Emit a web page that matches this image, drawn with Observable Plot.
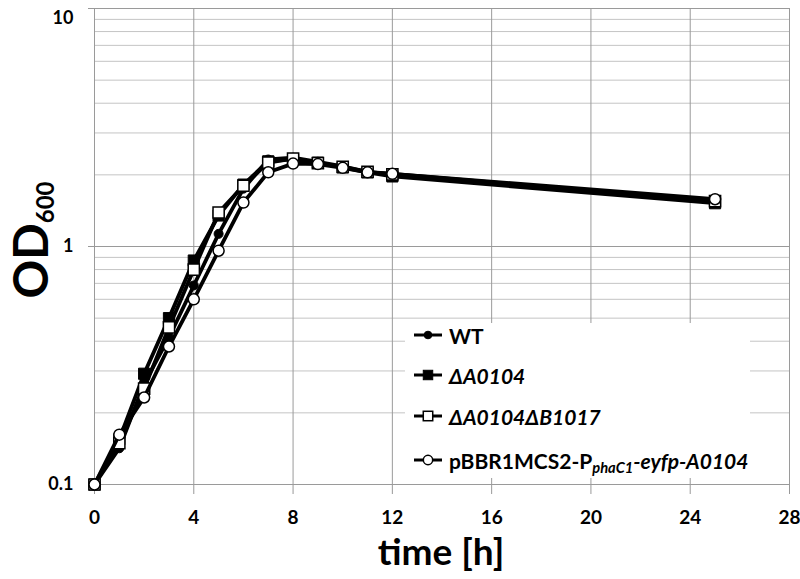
<!DOCTYPE html>
<html><head><meta charset="utf-8">
<script src="https://cdn.jsdelivr.net/npm/d3@7"></script>
<script src="https://cdn.jsdelivr.net/npm/@observablehq/plot@0.6"></script>
<style>
body{margin:0;background:#fff;}
#wrap{position:relative;width:800px;height:579px;font-family:Lato,"Open Sans",sans-serif;font-weight:bold;color:#000;}
#wrap svg text{font-weight:bold;}
[aria-label="x-axis tick"],[aria-label="y-axis tick"]{stroke:#999;}
[aria-label="y-axis tick label"]{font-size:18px;}
[aria-label="x-axis tick label"]{font-size:19px;}
#legend{position:absolute;left:405px;top:323px;width:345px;height:155px;background:#fff;}
.row{position:absolute;left:8px;height:30px;display:flex;align-items:center;font-size:21px;white-space:nowrap;}
.row svg{margin-right:6px;}
.it{font-style:italic;}
sub{font-size:0.7em;vertical-align:-0.3em;line-height:0;}
#ylab{position:absolute;left:30px;top:240px;transform:translate(-50%,-50%) rotate(-90deg);font-size:48px;white-space:nowrap;line-height:1;}
#ylab sub{font-size:24px;vertical-align:-0.25em;}
#xlab{position:absolute;left:441px;top:533px;transform:translateX(-50%);font-size:37px;white-space:nowrap;line-height:0.95;}
</style></head><body><div id="wrap"></div><script>
// ---- data ----
const times = [0, 1, 2, 3, 4, 5, 6, 7, 8, 9, 10, 11, 12, 25];
const seriesNames = ["WT", "ΔA0104", "ΔA0104ΔB1017", "pBBR1MCS2-PphaC1-eyfp-A0104"];
const wtOD      = [0.1, 0.142, 0.265, 0.415, 0.686, 1.13, 1.75, 2.32, 2.36, 2.27, 2.17, 2.06, 2.02, 1.55];
const dA0104OD  = [0.1, 0.155, 0.292, 0.50, 0.873, 1.35, 1.82, 2.28, 2.33, 2.25, 2.15, 2.05, 1.97, 1.52];
const dA0104dB1017OD = [0.1, 0.149, 0.253, 0.457, 0.80, 1.39, 1.80, 2.25, 2.34, 2.24, 2.16, 2.06, 2.01, 1.55];
const pBBROD    = [0.1, 0.162, 0.232, 0.38, 0.60, 0.96, 1.53, 2.05, 2.23, 2.22, 2.14, 2.05, 2.02, 1.58];
const xTicks = [0, 4, 8, 12, 16, 20, 24, 28];
const yTicks = [0.1, 1, 10];
const yTickLabels = ["0.1", "1", "10"];
const yMinorGrid = [0.2, 0.3, 0.4, 0.5, 0.6, 0.7, 0.8, 0.9, 2, 3, 4, 5, 6, 7, 8, 9];

const seriesValues = [wtOD, dA0104OD, dA0104dB1017OD, pBBROD];
const styles = [
  {symbol: "circle", r: 4.5, fill: "#000", stroke: "#000", strokeWidth: 1},
  {symbol: "square", r: 6.3, fill: "#000", stroke: "#000", strokeWidth: 1},
  {symbol: "square", r: 6.3, fill: "#fff", stroke: "#000", strokeWidth: 1.5},
  {symbol: "circle", r: 5.5, fill: "#fff", stroke: "#000", strokeWidth: 1.5}
];

const marks = [
  Plot.ruleY(yMinorGrid, {stroke: "#c4c4c4", strokeWidth: 1}),
  Plot.ruleY(yTicks, {stroke: "#9a9a9a", strokeWidth: 1}),
  Plot.ruleX(xTicks, {stroke: "#9a9a9a", strokeWidth: 1})
];
seriesNames.forEach((name, k) => {
  const rows = times.map((t, i) => ({t, od: seriesValues[k][i], name}));
  marks.push(Plot.line(rows, {x: "t", y: "od", stroke: "#000", strokeWidth: 3.8}));
  marks.push(Plot.dot(rows, {x: "t", y: "od", ...styles[k]}));
});

const chart = Plot.plot({
  width: 800, height: 579,
  marginLeft: 94, marginRight: 11, marginTop: 8, marginBottom: 95,
  style: {fontFamily: "Lato, 'Open Sans', sans-serif", fontSize: "20px", color: "#000", background: "#fff", overflow: "visible"},
  x: {domain: [0, 28], ticks: xTicks, tickSize: 10, tickPadding: 16, label: null},
  y: {type: "log", domain: [0.1, 10], ticks: yTicks, tickFormat: d => yTickLabels[yTicks.indexOf(d)], tickSize: 6, tickPadding: 15, label: null},
  marks
});
const wrap = document.getElementById("wrap");
wrap.appendChild(chart);
// keep the top "10" label fully inside the picture
d3.select(chart).selectAll('[aria-label="y-axis tick label"] text')
  .filter(function() { return this.textContent === "10"; })
  .attr("dy", "0.55em");

// legend
const legend = document.createElement("div");
legend.id = "legend";
const rowTops = [-3, 37, 78, 122];
const labelsHTML = [
  "WT",
  "<span class='it'>ΔA0104</span>",
  "<span class='it'>ΔA0104ΔB1017</span>",
  "pBBR1MCS2-P<sub class='it'>phaC1</sub><span class='it'>-eyfp-A0104</span>"
];
seriesNames.forEach((name, k) => {
  const row = document.createElement("div");
  row.className = "row";
  row.style.top = rowTops[k] + "px";
  const s = styles[k];
  let sym;
  if (s.symbol === "circle") sym = `<circle cx="15" cy="10" r="${s.r * 0.85}" fill="${s.fill}" stroke="#000" stroke-width="${s.strokeWidth}"/>`;
  else { const h = s.r * 0.75; sym = `<rect x="${15 - h}" y="${10 - h}" width="${2 * h}" height="${2 * h}" fill="${s.fill}" stroke="#000" stroke-width="${s.strokeWidth}"/>`; }
  row.innerHTML = `<svg width="30" height="20"><line x1="1" x2="29" y1="10" y2="10" stroke="#000" stroke-width="3"/>${sym}</svg><span>${labelsHTML[k]}</span>`;
  legend.appendChild(row);
});
wrap.appendChild(legend);

const ylab = document.createElement("div");
ylab.id = "ylab";
ylab.innerHTML = "OD<sub>600</sub>";
wrap.appendChild(ylab);
const xlab = document.createElement("div");
xlab.id = "xlab";
xlab.textContent = "time [h]";
wrap.appendChild(xlab);
</script></body></html>
